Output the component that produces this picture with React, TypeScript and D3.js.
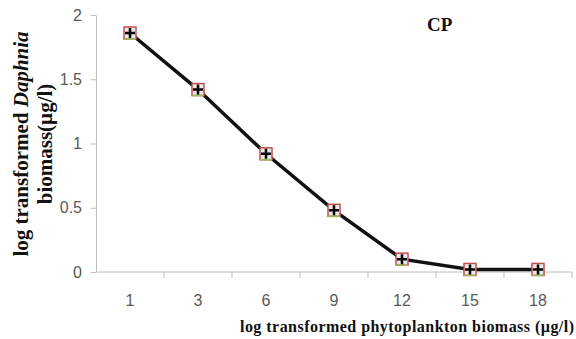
import { useRef, useEffect } from 'react';
import * as d3 from 'd3';

// x categories and y values
const CATEGORIES = ['1', '3', '6', '9', '12', '15', '18'];
const DAPHNIA = [1.86, 1.42, 0.92, 0.48, 0.1, 0.02, 0.02];
const Y_TICKS = [0, 0.5, 1, 1.5, 2];

export default function App() {
  const svgRef = useRef<SVGSVGElement>(null);

  useEffect(() => {
    const svg = d3.select(svgRef.current);
    svg.selectAll('*').remove();

    const W = 576, H = 339;
    const margin = { top: 15, right: 4, bottom: 67, left: 96 };
    const width = W - margin.left - margin.right;
    const height = H - margin.top - margin.bottom;

    const g = svg.append('g').attr('transform', `translate(${margin.left},${margin.top})`);

    const x = d3.scaleBand().domain(CATEGORIES).range([0, width]);
    const y = d3.scaleLinear().domain([0, 2]).range([height, 0]);

    // y axis
    const yAx = g.append('g')
      .call(d3.axisLeft(y).tickValues(Y_TICKS).tickFormat(d3.format('~g')).tickSize(5).tickSizeOuter(0));
    yAx.select('.domain').attr('stroke', '#bdbdbd');
    yAx.selectAll('line').attr('stroke', '#bdbdbd');
    yAx.selectAll('text')
      .attr('x', -14)
      .style('font-family', 'Liberation Sans, Arial, sans-serif')
      .style('font-size', '16px')
      .style('fill', '#595959');

    // x axis with ticks at band boundaries
    const xAx = g.append('g').attr('transform', `translate(0,${height})`);
    xAx.append('line').attr('x1', 0).attr('x2', width).attr('stroke', '#bdbdbd');
    CATEGORIES.forEach((c, i) => {
      if (i > 0) {
        xAx.append('line')
          .attr('x1', x(c)!).attr('x2', x(c)!)
          .attr('y1', 0).attr('y2', 6)
          .attr('stroke', '#bdbdbd');
      }
      xAx.append('text')
        .attr('x', x(c)! + x.bandwidth() / 2)
        .attr('y', 34)
        .attr('text-anchor', 'middle')
        .style('font-family', 'Liberation Sans, Arial, sans-serif')
        .style('font-size', '16px')
        .style('fill', '#595959')
        .text(c);
    });
    xAx.append('line').attr('x1', width).attr('x2', width).attr('y1', 0).attr('y2', 6).attr('stroke', '#bdbdbd');

    // line
    const cx = (i: number) => x(CATEGORIES[i])! + x.bandwidth() / 2;
    const line = d3.line<number>().x((d, i) => cx(i)).y(d => y(d));
    g.append('path')
      .datum(DAPHNIA)
      .attr('d', line)
      .attr('fill', 'none')
      .attr('stroke', '#111')
      .attr('stroke-width', 3.5);

    // markers: red square, green lower edge, black plus
    const m = g.selectAll('g.mk').data(DAPHNIA).enter().append('g')
      .attr('transform', (d, i) => `translate(${cx(i)},${y(d)})`);
    m.append('rect')
      .attr('x', -6).attr('y', -6).attr('width', 12).attr('height', 12)
      .attr('fill', '#e9e9e9').attr('stroke', '#c0504d').attr('stroke-width', 1.5);
    m.append('line')
      .attr('x1', -6).attr('x2', 6).attr('y1', 6).attr('y2', 6)
      .attr('stroke', '#9bbb59').attr('stroke-width', 1.5);
    m.append('path')
      .attr('d', 'M-5,0H5M0,-5V5')
      .attr('stroke', '#000').attr('stroke-width', 2.5);

    // y label, two lines rotated
    const yl = svg.append('text')
      .attr('transform', `translate(0,144) rotate(-90)`)
      .attr('text-anchor', 'middle')
      .style('font-family', 'Liberation Serif, Times New Roman, serif')
      .style('font-weight', 'bold')
      .style('font-size', '21px')
      .style('fill', '#111');
    const t1 = yl.append('tspan').attr('x', 0).attr('y', 28);
    t1.append('tspan').text('log transformed ');
    t1.append('tspan').style('font-style', 'italic').text('Daphnia');
    yl.append('tspan').attr('x', 0).attr('y', 52).text('biomass(µg/l)');

    // x label
    svg.append('text')
      .attr('x', 574).attr('y', 332)
      .attr('text-anchor', 'end')
      .attr('textLength', 334)
      .style('font-family', 'Liberation Serif, Times New Roman, serif')
      .style('font-weight', 'bold')
      .style('font-size', '16px')
      .style('fill', '#111')
      .text('log transformed phytoplankton biomass (µg/l)');

    // panel title
    svg.append('text')
      .attr('x', 427).attr('y', 31)
      .style('font-family', 'Liberation Serif, Times New Roman, serif')
      .style('font-weight', 'bold')
      .style('font-size', '19px')
      .style('fill', '#111')
      .text('CP');
  }, []);

  return (
    <svg
      ref={svgRef}
      width={576}
      height={339}
      style={{ position: 'absolute', left: 0, top: 0, background: '#fff' }}
    />
  );
}
